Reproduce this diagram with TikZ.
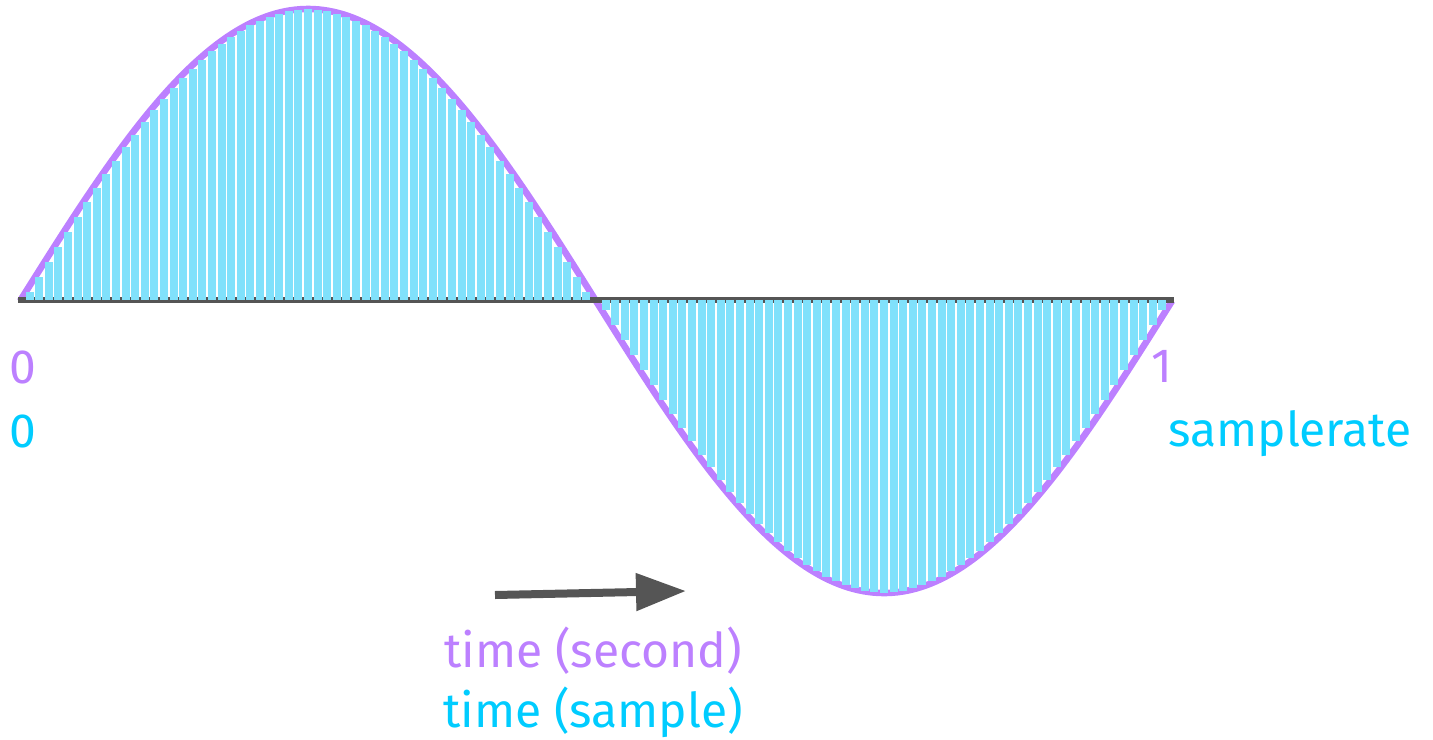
\documentclass[tikz,border=0pt]{standalone}
\usepackage{fontspec}
\setmainfont{Fira Sans}
\definecolor{wavepurple}{HTML}{BC80FF}
\definecolor{barcyan}{HTML}{80E1FB}
\definecolor{labelcyan}{HTML}{00CCFF}
\definecolor{axisgray}{HTML}{555555}
\usetikzlibrary{arrows.meta, positioning}

\begin{document}
\begin{tikzpicture}[x=0.5pt, y=-0.5pt,
   lbl/.style={anchor=base, inner sep=0pt, font=\fontsize{24}{28}\selectfont}]
   \useasboundingbox (0,0) rectangle (1433,739);
   % wave
   \draw[wavepurple, line width=3.3pt] plot[domain=20:1172, samples=240]
      (\x, {301-292*sin(0.3125*(\x-20))});
   \draw[axisgray, line width=3.3pt] (18,300) -- (1174,300);
   % samples
   \foreach \n in {1,...,119} {
      \ifnum\n=60 \else
         \pgfmathsetmacro\h{292*min(abs(sin(3*(\n-0.42))),abs(sin(3*(\n+0.42))))}
         \pgfmathsetmacro\s{\n<60 ? -1 : 1}
         \fill[barcyan] ({20+9.6*\n-4},300) rectangle ({20+9.6*\n+4},{301+\s*\h});
      \fi
   }
   % time arrow
   \coordinate (t0) at (495,595);
   \coordinate (t1) at (686,591);
   \draw[-{Triangle[length=25pt, width=18pt]}, axisgray, line width=4pt] (t0) -- (t1);
   % labels
   \node[lbl, wavepurple] (zerosec) at (23,383) {0};
   \node[lbl, labelcyan] (zerosmp) at (23,447) {0};
   \node[lbl, wavepurple] (onesec) at (1162,382) {1};
   \node[lbl, labelcyan] (rate) at (1290,446) {samplerate};
   \node[lbl, wavepurple] (tsec) at (593,667) {time (second)};
   \node[lbl, labelcyan] (tsmp) at (593,727) {time (sample)};
\end{tikzpicture}
\end{document}
